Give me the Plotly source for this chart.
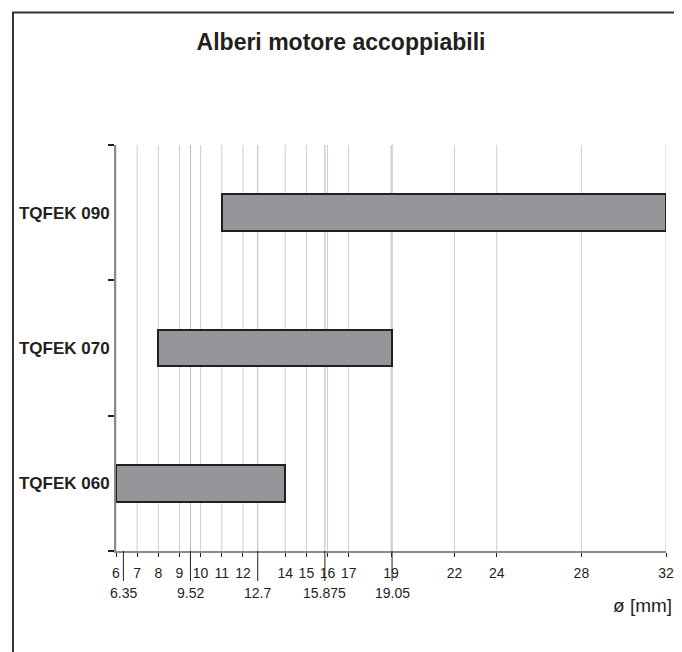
import plotly.graph_objects as go

# Data
models = ["TQFEK 060", "TQFEK 070", "TQFEK 090"]
shaft_min = [6, 8, 11]
shaft_max = [14, 19.05, 32]

metric_ticks = [6, 7, 8, 9, 10, 11, 12, 14, 15, 16, 17, 19, 22, 24, 28, 32]
inch_ticks = [6.35, 9.52, 12.7, 15.875, 19.05]
inch_labels = ["6.35", "9.52", "12.7", "15.875", "19.05"]
inch_grid = [9.52, 12.7, 15.875, 19.05]

FONT = "Liberation Sans, Arial"
INK = "#231f20"

OFF = 8  # page body margin
W, H = 682 - OFF, 652 - OFF
PL, PR, PT, PB = 116, 666, 145, 551  # plot area in window pixels
ML = PL - OFF
MR = W - (PR - OFF)
MT = PT - OFF
MB = H - (PB - OFF)
PW = PR - PL
PH = PB - PT


def px_to_paper_x(px):
    return (px - PL) / PW


def px_to_paper_y(py):
    return (PB - py) / PH


fig = go.Figure()
fig.add_trace(go.Bar(
    y=models,
    x=[b - a for a, b in zip(shaft_min, shaft_max)],
    base=shaft_min,
    orientation="h",
    width=0.27,
    marker=dict(color="#939598", line=dict(color=INK, width=2)),
    showlegend=False,
    hoverinfo="skip",
))

shapes = []
for v in metric_ticks:
    shapes.append(dict(type="line", xref="x", yref="paper", x0=v, x1=v, y0=0, y1=1,
                       line=dict(color="#cdcdcd", width=1), layer="below"))
for v in inch_grid:
    shapes.append(dict(type="line", xref="x", yref="paper", x0=v, x1=v, y0=0, y1=1,
                       line=dict(color="#b8b8b8", width=1), layer="below"))
for v in inch_ticks:
    shapes.append(dict(type="line", xref="x", yref="paper", x0=v, x1=v,
                       y0=0, y1=px_to_paper_y(581),
                       line=dict(color=INK, width=1), layer="above"))
shapes.append(dict(type="rect", xref="paper", yref="paper",
                   x0=px_to_paper_x(13), x1=px_to_paper_x(676),
                   y0=px_to_paper_y(12.5), y1=px_to_paper_y(720),
                   line=dict(color="#333333", width=2), fillcolor="rgba(0,0,0,0)"))

annotations = []
for v, t in zip(inch_ticks, inch_labels):
    annotations.append(dict(x=v, y=px_to_paper_y(593), xref="x", yref="paper",
                            text=t, showarrow=False, xanchor="center", yanchor="middle",
                            font=dict(family=FONT, size=14, color=INK)))
annotations.append(dict(x=px_to_paper_x(674), y=px_to_paper_y(605), xref="paper", yref="paper",
                        text="ø [mm]", showarrow=False, xanchor="right", yanchor="middle",
                        font=dict(family=FONT, size=19, color=INK)))

fig.update_layout(
    width=W, height=H, autosize=False,
    margin=dict(l=ML, r=MR, t=MT, b=MB, pad=0, autoexpand=False),
    paper_bgcolor="white", plot_bgcolor="white",
    title=dict(text="Alberi motore accoppiabili", x=(341 - OFF) / W, xanchor="center",
               y=1 - (42 - OFF) / H, yanchor="middle", xref="container", yref="container",
               font=dict(family=FONT, size=23, color=INK, weight="bold")),
    shapes=shapes,
    annotations=annotations,
    bargap=0,
)
fig.update_xaxes(
    range=[6, 32], tickvals=metric_ticks, ticktext=[str(v) for v in metric_ticks],
    showgrid=False, zeroline=False, automargin=False,
    showline=True, linecolor="#8a8a8a", linewidth=2,
    ticks="outside", ticklen=4, tickcolor=INK, tickwidth=1,
    ticklabelstandoff=4,
    tickfont=dict(family=FONT, size=14, color=INK),
)
fig.update_yaxes(
    type="category", categoryorder="array", categoryarray=models,
    range=[-0.5, 2.5], tickson="boundaries", automargin=False,
    showgrid=False, zeroline=False,
    showline=True, linecolor="#8a8a8a", linewidth=2,
    ticks="outside", ticklen=6, tickcolor=INK, tickwidth=1.5,
    ticklabelstandoff=1,
    tickfont=dict(family=FONT, size=17, color=INK, weight="bold"),
)

fig.write_html("out.html")
